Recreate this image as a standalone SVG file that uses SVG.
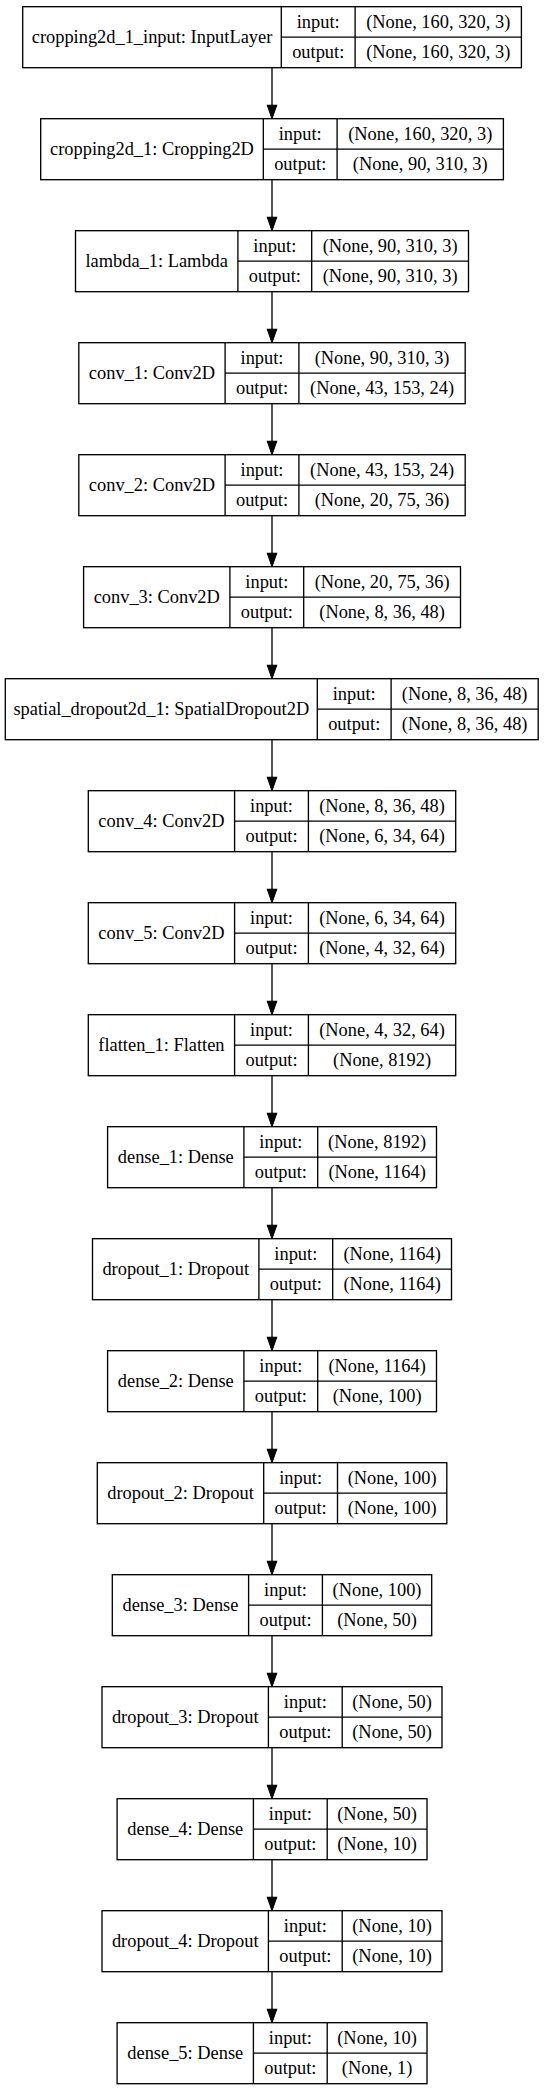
<svg xmlns="http://www.w3.org/2000/svg" width="544" height="2091" viewBox="0 0 544 2091">
<style>
.node rect{fill:#fff;stroke:#000;stroke-width:1.33}
.node path{fill:none;stroke:#000;stroke-width:1.33}
text{font-family:"Liberation Serif","Times New Roman",serif;font-size:18.4px;fill:#000;text-anchor:middle}
.edges line{stroke:#000;stroke-width:1.33}
</style>
<defs>
<marker id="ah" markerUnits="userSpaceOnUse" markerWidth="16" markerHeight="12" refX="0" refY="4.67" orient="auto" overflow="visible">
<path d="M0,0 L13.3,4.67 L0,9.33 Z" fill="#000" stroke="#000" stroke-width="1.1"/>
</marker>
</defs>
<rect width="544" height="2091" fill="#fff"/>
<g class="edges">
<line x1="272" y1="67.7" x2="272" y2="105.4" marker-end="url(#ah)"/>
<line x1="272" y1="179.7" x2="272" y2="217.4" marker-end="url(#ah)"/>
<line x1="272" y1="291.7" x2="272" y2="329.4" marker-end="url(#ah)"/>
<line x1="272" y1="403.7" x2="272" y2="441.4" marker-end="url(#ah)"/>
<line x1="272" y1="515.7" x2="272" y2="553.4" marker-end="url(#ah)"/>
<line x1="272" y1="627.7" x2="272" y2="665.4" marker-end="url(#ah)"/>
<line x1="272" y1="739.7" x2="272" y2="777.4" marker-end="url(#ah)"/>
<line x1="272" y1="851.7" x2="272" y2="889.4" marker-end="url(#ah)"/>
<line x1="272" y1="963.7" x2="272" y2="1001.4" marker-end="url(#ah)"/>
<line x1="272" y1="1075.7" x2="272" y2="1113.4" marker-end="url(#ah)"/>
<line x1="272" y1="1187.7" x2="272" y2="1225.4" marker-end="url(#ah)"/>
<line x1="272" y1="1299.7" x2="272" y2="1337.4" marker-end="url(#ah)"/>
<line x1="272" y1="1411.7" x2="272" y2="1449.4" marker-end="url(#ah)"/>
<line x1="272" y1="1523.7" x2="272" y2="1561.4" marker-end="url(#ah)"/>
<line x1="272" y1="1635.7" x2="272" y2="1673.4" marker-end="url(#ah)"/>
<line x1="272" y1="1747.7" x2="272" y2="1785.4" marker-end="url(#ah)"/>
<line x1="272" y1="1859.7" x2="272" y2="1897.4" marker-end="url(#ah)"/>
<line x1="272" y1="1971.7" x2="272" y2="2009.4" marker-end="url(#ah)"/>
</g>

<g id="cropping2d_1_input" class="node">
<rect x="22.7" y="6.7" width="498.7" height="61"/>
<path d="M281.3,6.7V67.7M355.1,6.7V67.7M281.3,37.2H521.4"/>
<text x="152" y="42.8">cropping2d_1_input: InputLayer</text>
<text x="318.2" y="27.6">input:</text>
<text x="318.2" y="58.1">output:</text>
<text x="438.25" y="27.6">(None, 160, 320, 3)</text>
<text x="438.25" y="58.1">(None, 160, 320, 3)</text>
</g>

<g id="cropping2d_1" class="node">
<rect x="40.7" y="118.7" width="462.7" height="61"/>
<path d="M263.3,118.7V179.7M337.1,118.7V179.7M263.3,149.2H503.4"/>
<text x="152" y="154.8">cropping2d_1: Cropping2D</text>
<text x="300.2" y="139.6">input:</text>
<text x="300.2" y="170.1">output:</text>
<text x="420.25" y="139.6">(None, 160, 320, 3)</text>
<text x="420.25" y="170.1">(None, 90, 310, 3)</text>
</g>

<g id="lambda_1" class="node">
<rect x="75.5" y="230.7" width="393" height="61"/>
<path d="M237.9,230.7V291.7M311.7,230.7V291.7M237.9,261.2H468.5"/>
<text x="156.7" y="266.8">lambda_1: Lambda</text>
<text x="274.8" y="251.6">input:</text>
<text x="274.8" y="282.1">output:</text>
<text x="390.1" y="251.6">(None, 90, 310, 3)</text>
<text x="390.1" y="282.1">(None, 90, 310, 3)</text>
</g>

<g id="conv_1" class="node">
<rect x="78.8" y="342.7" width="386.4" height="61"/>
<path d="M225.1,342.7V403.7M298.9,342.7V403.7M225.1,373.2H465.2"/>
<text x="151.95" y="378.8">conv_1: Conv2D</text>
<text x="262" y="363.6">input:</text>
<text x="262" y="394.1">output:</text>
<text x="382.05" y="363.6">(None, 90, 310, 3)</text>
<text x="382.05" y="394.1">(None, 43, 153, 24)</text>
</g>

<g id="conv_2" class="node">
<rect x="78.8" y="454.7" width="386.4" height="61"/>
<path d="M225.1,454.7V515.7M298.9,454.7V515.7M225.1,485.2H465.2"/>
<text x="151.95" y="490.8">conv_2: Conv2D</text>
<text x="262" y="475.6">input:</text>
<text x="262" y="506.1">output:</text>
<text x="382.05" y="475.6">(None, 43, 153, 24)</text>
<text x="382.05" y="506.1">(None, 20, 75, 36)</text>
</g>

<g id="conv_3" class="node">
<rect x="83.6" y="566.7" width="376.9" height="61"/>
<path d="M229.9,566.7V627.7M303.7,566.7V627.7M229.9,597.2H460.5"/>
<text x="156.75" y="602.8">conv_3: Conv2D</text>
<text x="266.8" y="587.6">input:</text>
<text x="266.8" y="618.1">output:</text>
<text x="382.1" y="587.6">(None, 20, 75, 36)</text>
<text x="382.1" y="618.1">(None, 8, 36, 48)</text>
</g>

<g id="spatial_dropout2d_1" class="node">
<rect x="5.3" y="678.7" width="532.9" height="61"/>
<path d="M317.3,678.7V739.7M391.1,678.7V739.7M317.3,709.2H538.2"/>
<text x="161.3" y="714.8">spatial_dropout2d_1: SpatialDropout2D</text>
<text x="354.2" y="699.6">input:</text>
<text x="354.2" y="730.1">output:</text>
<text x="464.65" y="699.6">(None, 8, 36, 48)</text>
<text x="464.65" y="730.1">(None, 8, 36, 48)</text>
</g>

<g id="conv_4" class="node">
<rect x="88.3" y="790.7" width="367.4" height="61"/>
<path d="M234.6,790.7V851.7M308.4,790.7V851.7M234.6,821.2H455.7"/>
<text x="161.45" y="826.8">conv_4: Conv2D</text>
<text x="271.5" y="811.6">input:</text>
<text x="271.5" y="842.1">output:</text>
<text x="382.05" y="811.6">(None, 8, 36, 48)</text>
<text x="382.05" y="842.1">(None, 6, 34, 64)</text>
</g>

<g id="conv_5" class="node">
<rect x="88.3" y="902.7" width="367.4" height="61"/>
<path d="M234.6,902.7V963.7M308.4,902.7V963.7M234.6,933.2H455.7"/>
<text x="161.45" y="938.8">conv_5: Conv2D</text>
<text x="271.5" y="923.6">input:</text>
<text x="271.5" y="954.1">output:</text>
<text x="382.05" y="923.6">(None, 6, 34, 64)</text>
<text x="382.05" y="954.1">(None, 4, 32, 64)</text>
</g>

<g id="flatten_1" class="node">
<rect x="88.3" y="1014.7" width="367.4" height="61"/>
<path d="M234.6,1014.7V1075.7M308.4,1014.7V1075.7M234.6,1045.2H455.7"/>
<text x="161.45" y="1050.8">flatten_1: Flatten</text>
<text x="271.5" y="1035.6">input:</text>
<text x="271.5" y="1066.1">output:</text>
<text x="382.05" y="1035.6">(None, 4, 32, 64)</text>
<text x="382.05" y="1066.1">(None, 8192)</text>
</g>

<g id="dense_1" class="node">
<rect x="107.6" y="1126.7" width="328.9" height="61"/>
<path d="M243.9,1126.7V1187.7M317.7,1126.7V1187.7M243.9,1157.2H436.5"/>
<text x="175.75" y="1162.8">dense_1: Dense</text>
<text x="280.8" y="1147.6">input:</text>
<text x="280.8" y="1178.1">output:</text>
<text x="377.1" y="1147.6">(None, 8192)</text>
<text x="377.1" y="1178.1">(None, 1164)</text>
</g>

<g id="dropout_1" class="node">
<rect x="92.5" y="1238.7" width="359" height="61"/>
<path d="M258.9,1238.7V1299.7M332.7,1238.7V1299.7M258.9,1269.2H451.5"/>
<text x="175.7" y="1274.8">dropout_1: Dropout</text>
<text x="295.8" y="1259.6">input:</text>
<text x="295.8" y="1290.1">output:</text>
<text x="392.1" y="1259.6">(None, 1164)</text>
<text x="392.1" y="1290.1">(None, 1164)</text>
</g>

<g id="dense_2" class="node">
<rect x="107.6" y="1350.7" width="328.9" height="61"/>
<path d="M243.9,1350.7V1411.7M317.7,1350.7V1411.7M243.9,1381.2H436.5"/>
<text x="175.75" y="1386.8">dense_2: Dense</text>
<text x="280.8" y="1371.6">input:</text>
<text x="280.8" y="1402.1">output:</text>
<text x="377.1" y="1371.6">(None, 1164)</text>
<text x="377.1" y="1402.1">(None, 100)</text>
</g>

<g id="dropout_2" class="node">
<rect x="97.3" y="1462.7" width="349.5" height="61"/>
<path d="M263.7,1462.7V1523.7M337.5,1462.7V1523.7M263.7,1493.2H446.8"/>
<text x="180.5" y="1498.8">dropout_2: Dropout</text>
<text x="300.6" y="1483.6">input:</text>
<text x="300.6" y="1514.1">output:</text>
<text x="392.15" y="1483.6">(None, 100)</text>
<text x="392.15" y="1514.1">(None, 100)</text>
</g>

<g id="dense_3" class="node">
<rect x="112.3" y="1574.7" width="319.4" height="61"/>
<path d="M248.6,1574.7V1635.7M322.4,1574.7V1635.7M248.6,1605.2H431.7"/>
<text x="180.45" y="1610.8">dense_3: Dense</text>
<text x="285.5" y="1595.6">input:</text>
<text x="285.5" y="1626.1">output:</text>
<text x="377.05" y="1595.6">(None, 100)</text>
<text x="377.05" y="1626.1">(None, 50)</text>
</g>

<g id="dropout_3" class="node">
<rect x="102" y="1686.7" width="340" height="61"/>
<path d="M268.4,1686.7V1747.7M342.2,1686.7V1747.7M268.4,1717.2H442"/>
<text x="185.2" y="1722.8">dropout_3: Dropout</text>
<text x="305.3" y="1707.6">input:</text>
<text x="305.3" y="1738.1">output:</text>
<text x="392.1" y="1707.6">(None, 50)</text>
<text x="392.1" y="1738.1">(None, 50)</text>
</g>

<g id="dense_4" class="node">
<rect x="117.1" y="1798.7" width="309.9" height="61"/>
<path d="M253.4,1798.7V1859.7M327.2,1798.7V1859.7M253.4,1829.2H427"/>
<text x="185.25" y="1834.8">dense_4: Dense</text>
<text x="290.3" y="1819.6">input:</text>
<text x="290.3" y="1850.1">output:</text>
<text x="377.1" y="1819.6">(None, 50)</text>
<text x="377.1" y="1850.1">(None, 10)</text>
</g>

<g id="dropout_4" class="node">
<rect x="102" y="1910.7" width="340" height="61"/>
<path d="M268.4,1910.7V1971.7M342.2,1910.7V1971.7M268.4,1941.2H442"/>
<text x="185.2" y="1946.8">dropout_4: Dropout</text>
<text x="305.3" y="1931.6">input:</text>
<text x="305.3" y="1962.1">output:</text>
<text x="392.1" y="1931.6">(None, 10)</text>
<text x="392.1" y="1962.1">(None, 10)</text>
</g>

<g id="dense_5" class="node">
<rect x="117.1" y="2022.7" width="309.9" height="61"/>
<path d="M253.4,2022.7V2083.7M327.2,2022.7V2083.7M253.4,2053.2H427"/>
<text x="185.25" y="2058.8">dense_5: Dense</text>
<text x="290.3" y="2043.6">input:</text>
<text x="290.3" y="2074.1">output:</text>
<text x="377.1" y="2043.6">(None, 10)</text>
<text x="377.1" y="2074.1">(None, 1)</text>
</g>
</svg>
